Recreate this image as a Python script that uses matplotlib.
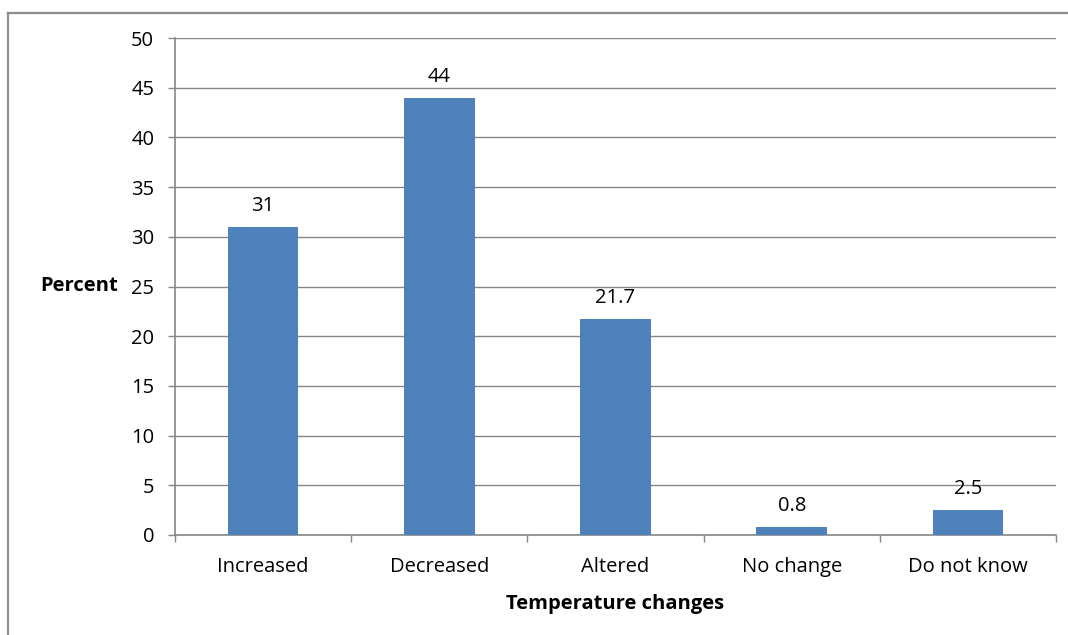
import matplotlib
matplotlib.use("Agg")
import matplotlib.pyplot as plt
from matplotlib.lines import Line2D
import numpy as np

# survey responses on perceived temperature changes
categories = ["Increased", "Decreased", "Altered", "No change", "Do not know"]
percent = [31, 44, 21.7, 0.8, 2.5]
value_labels = ["31", "44", "21.7", "0.8", "2.5"]

BAR_COLOR = "#4F81BD"
GRID_COLOR = "#868686"
FS = 14.5

plt.rcParams["font.family"] = ["Open Sans", "DejaVu Sans"]

W, H = 1068, 635
fig = plt.figure(figsize=(W / 100, H / 100), dpi=100)

# outer chart frame (top and left edges only show)
fig.add_artist(Line2D([8 / W, 1], [1 - 13 / H, 1 - 13 / H], color="#8c8c8c", lw=1.6))
fig.add_artist(Line2D([8 / W, 8 / W], [0, 1 - 13 / H], color="#8c8c8c", lw=1.6))

ax = fig.add_axes([175 / W, (H - 535) / H, 881 / W, 497 / H])

x = np.arange(len(categories))
ax.bar(x, percent, width=0.4, color=BAR_COLOR, zorder=3)

for xi, v, lab in zip(x, percent, value_labels):
    ax.annotate(lab, (xi, v), xytext=(0, 8), textcoords="offset points",
                ha="center", va="bottom", fontsize=FS)

ax.set_xlim(-0.5, len(categories) - 0.5)
ax.set_ylim(0, 50)
ax.set_yticks(np.arange(0, 51, 5))
ax.yaxis.grid(True, color=GRID_COLOR, lw=1)
ax.set_axisbelow(True)

# category labels between boundary ticks
ax.set_xticks(np.arange(-0.5, len(categories), 1))
ax.set_xticklabels([])
ax.set_xticks(x, minor=True)
ax.set_xticklabels(categories, minor=True, fontsize=FS)
ax.tick_params(axis="x", which="minor", length=0, pad=16)
ax.tick_params(axis="x", which="major", length=5, color=GRID_COLOR, width=1)
ax.tick_params(axis="y", length=5, color=GRID_COLOR, width=1, labelsize=FS, pad=10)

for side in ["top", "right"]:
    ax.spines[side].set_visible(False)
ax.spines["left"].set_color(GRID_COLOR)
ax.spines["bottom"].set_color(GRID_COLOR)
ax.spines["left"].set_linewidth(1.2)
ax.spines["bottom"].set_linewidth(1.2)

ax.set_xlabel("Temperature changes", fontsize=FS, fontweight="bold", labelpad=12)
fig.text(118 / W, 1 - 286 / H, "Percent", ha="right", va="center",
         fontsize=FS, fontweight="bold")

fig.savefig("out.png", dpi=100)
